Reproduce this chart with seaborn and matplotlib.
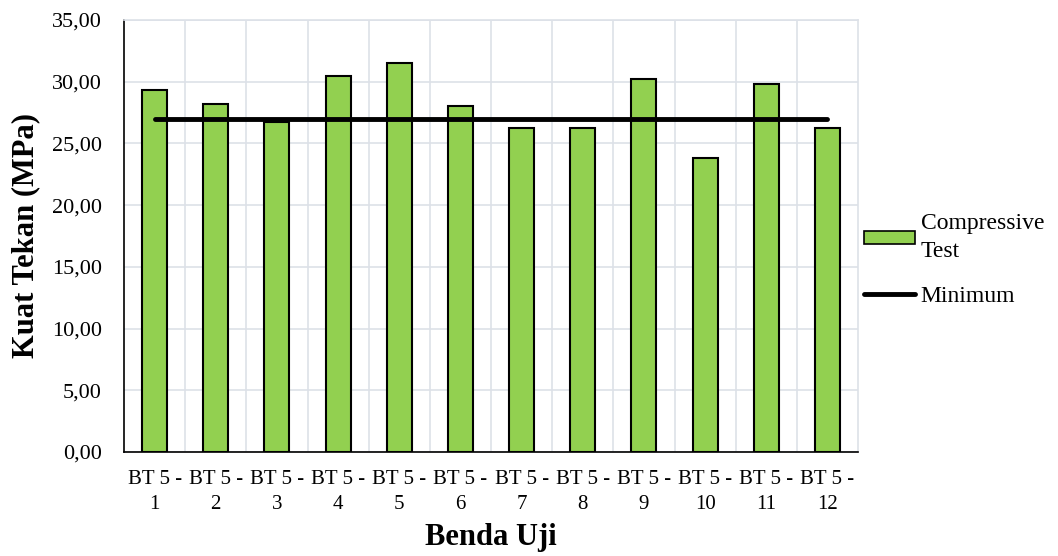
import numpy as np
import pandas as pd
import matplotlib
matplotlib.use("Agg")
import matplotlib.pyplot as plt
import seaborn as sns
from matplotlib.ticker import FuncFormatter, FixedLocator
from matplotlib.patches import Patch
from matplotlib.lines import Line2D

categories = ["BT 5 -\n1", "BT 5 -\n2", "BT 5 -\n3", "BT 5 -\n4", "BT 5 -\n5", "BT 5 -\n6",
              "BT 5 -\n7", "BT 5 -\n8", "BT 5 -\n9", "BT 5 -\n10", "BT 5 -\n11", "BT 5 -\n12"]
compressive = [29.33, 28.22, 26.72, 30.47, 31.55, 28.01, 26.23, 26.23, 30.20, 23.80, 29.80, 26.23]
minimum = [27.0, 27.0, 27.0, 27.0, 27.0, 27.0, 27.0, 27.0, 27.0, 27.0, 27.0, 27.0]

sns.set_theme(style="white")
plt.rcParams['font.family'] = ['Liberation Serif', 'DejaVu Serif']
plt.rcParams['text.color'] = 'black'
plt.rcParams['axes.labelcolor'] = 'black'

df = pd.DataFrame({"cat": categories, "val": compressive})

fig = plt.figure(figsize=(10.58, 5.56), dpi=100)
ax = fig.add_axes([124/1058, 1-452/556, (858-124)/1058, (452-20)/556])

sns.barplot(data=df, x="cat", y="val", color="#92D050", edgecolor="black",
            linewidth=1.5, width=0.41, saturation=1, ax=ax, zorder=3)
xs = np.arange(len(categories))
ax.plot(xs, minimum, color="black", linewidth=3.5, solid_capstyle="round", zorder=4)

ax.set_xlim(-0.5, len(categories) - 0.5)
ax.set_ylim(0, 35)
ax.set_yticks(np.arange(0, 35.1, 5))
ax.yaxis.set_major_formatter(FuncFormatter(lambda v, p: f"{v:.2f}".replace(".", ",")))
ax.xaxis.set_minor_locator(FixedLocator(np.arange(0.5, len(categories) - 0.5, 1.0)))
ax.grid(axis="y", which="major", color="#dde1e8", linewidth=1.2, zorder=0)
ax.grid(axis="x", which="minor", color="#dde1e8", linewidth=1.2, zorder=0)
ax.set_axisbelow(True)

for s in ["top", "right"]:
    ax.spines[s].set_color("#dde1e8")
    ax.spines[s].set_linewidth(1.2)
for s in ["left", "bottom"]:
    ax.spines[s].set_color("black")
    ax.spines[s].set_linewidth(1.2)

ax.tick_params(axis="both", which="both", length=0, colors="black")
ax.tick_params(axis="y", pad=16, labelsize=16)
ax.tick_params(axis="x", pad=13, labelsize=15)
for t in ax.get_xticklabels():
    t.set_linespacing(1.4)

ax.set_xlabel("Benda Uji", fontsize=22, fontweight="bold", labelpad=7, color="black")
ax.set_ylabel("Kuat Tekan (MPa)", fontsize=22, fontweight="bold", labelpad=8, color="black")

handles = [Patch(facecolor="#92D050", edgecolor="black", linewidth=1.2),
           Line2D([0], [0], color="black", linewidth=3.5)]
leg = fig.legend(handles, ["Compressive\nTest", "Minimum"], loc="upper left",
                 bbox_to_anchor=(864/1058, 1-213/556), frameon=False, fontsize=17,
                 handlelength=2.15, handleheight=0.45, handletextpad=0.25, labelspacing=1.0,
                 borderaxespad=0, borderpad=0)
leg.get_texts()[0].set_linespacing(1.45)

fig.savefig("out.png", dpi=100)
